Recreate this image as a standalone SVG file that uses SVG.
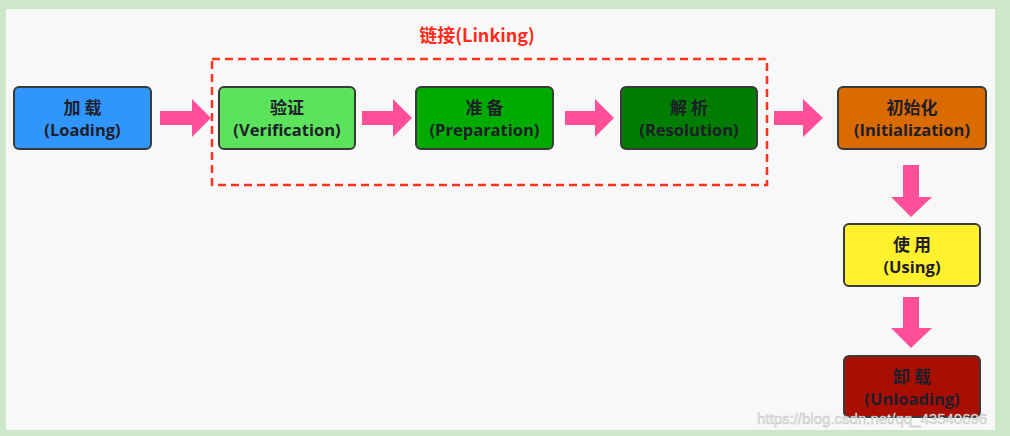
<svg xmlns="http://www.w3.org/2000/svg" width="1010" height="436" viewBox="0 0 1010 436">
<defs>
<style>
.box{stroke:#3a3a3a;stroke-width:2}
.t{font-family:"Open Sans","Noto Sans CJK SC",sans-serif;font-weight:bold;font-size:16.5px;fill:#1e1e2a;text-anchor:middle}
.cn{font-family:"Noto Sans CJK SC",sans-serif;font-weight:bold;font-size:17px;fill:#1e1e2a;text-anchor:middle}
.arr{fill:#ff4f98}
</style>
</defs>
<rect x="0" y="0" width="1010" height="436" fill="#cce7c9"/>
<rect x="6" y="9" width="989" height="421" fill="#f8f8f8"/>
<g id="linking">
<rect x="212" y="59" width="555" height="126" fill="none" stroke="#ff3322" stroke-width="2.5" stroke-dasharray="8,5"/>
<text x="477" y="42" font-family="Noto Sans CJK SC,sans-serif" font-weight="bold" font-size="18" fill="#ff2a1a" text-anchor="middle">链接(Linking)</text>
</g>
<g id="connectors">
<polygon class="arr" points="160,111 192,111 192,99 211,118 192,137 192,125 160,125"/>
<polygon class="arr" points="362,111 393,111 393,99 412,118 393,137 393,125 362,125"/>
<polygon class="arr" points="565,111 595,111 595,99 614,118 595,137 595,125 565,125"/>
<polygon class="arr" points="774,111 803,111 803,99 823,118 803,137 803,125 774,125"/>
<polygon class="arr" points="903,165 919,165 919,197 932,197 911,217 891,197 903,197"/>
<polygon class="arr" points="903,297 919,297 919,328 932,328 911,348 891,328 903,328"/>
</g>
<g id="loading">
<rect class="box" x="14" y="87" width="137" height="62" rx="5" fill="#3196fb"/>
<text class="cn" x="82.5" y="114">加 载</text>
<text class="t" x="82.5" y="136">(Loading)</text>
</g>
<g id="verification">
<rect class="box" x="219" y="87" width="136" height="62" rx="5" fill="#5ce35c"/>
<text class="cn" x="287" y="114">验证</text>
<text class="t" x="287" y="136">(Verification)</text>
</g>
<g id="preparation">
<rect class="box" x="416" y="87" width="137" height="62" rx="5" fill="#00ab00"/>
<text class="cn" x="484.5" y="114">准 备</text>
<text class="t" x="484.5" y="136">(Preparation)</text>
</g>
<g id="resolution">
<rect class="box" x="621" y="87" width="136" height="62" rx="5" fill="#007c00"/>
<text class="cn" x="689" y="114">解 析</text>
<text class="t" x="689" y="136">(Resolution)</text>
</g>
<g id="initialization">
<rect class="box" x="838" y="87" width="148" height="62" rx="5" fill="#d96b00"/>
<text class="cn" x="912" y="114">初始化</text>
<text class="t" x="912" y="136">(Initialization)</text>
</g>
<g id="using">
<rect class="box" x="844" y="224" width="136" height="62" rx="5" fill="#fff22c"/>
<text class="cn" x="912" y="251">使 用</text>
<text class="t" x="912" y="273">(Using)</text>
</g>
<g id="unloading">
<rect class="box" x="844" y="356" width="136" height="61" rx="5" fill="#a80f00"/>
<text class="cn" x="912" y="383">卸 载</text>
<text class="t" x="912" y="405">(Unloading)</text>
</g>
<text x="757" y="424" font-family="Liberation Sans,sans-serif" font-size="15" fill="#e6e6e6" stroke="#bdbdbd" stroke-width="0.4">https://blog.csdn.net/qq_43540696</text>
</svg>
